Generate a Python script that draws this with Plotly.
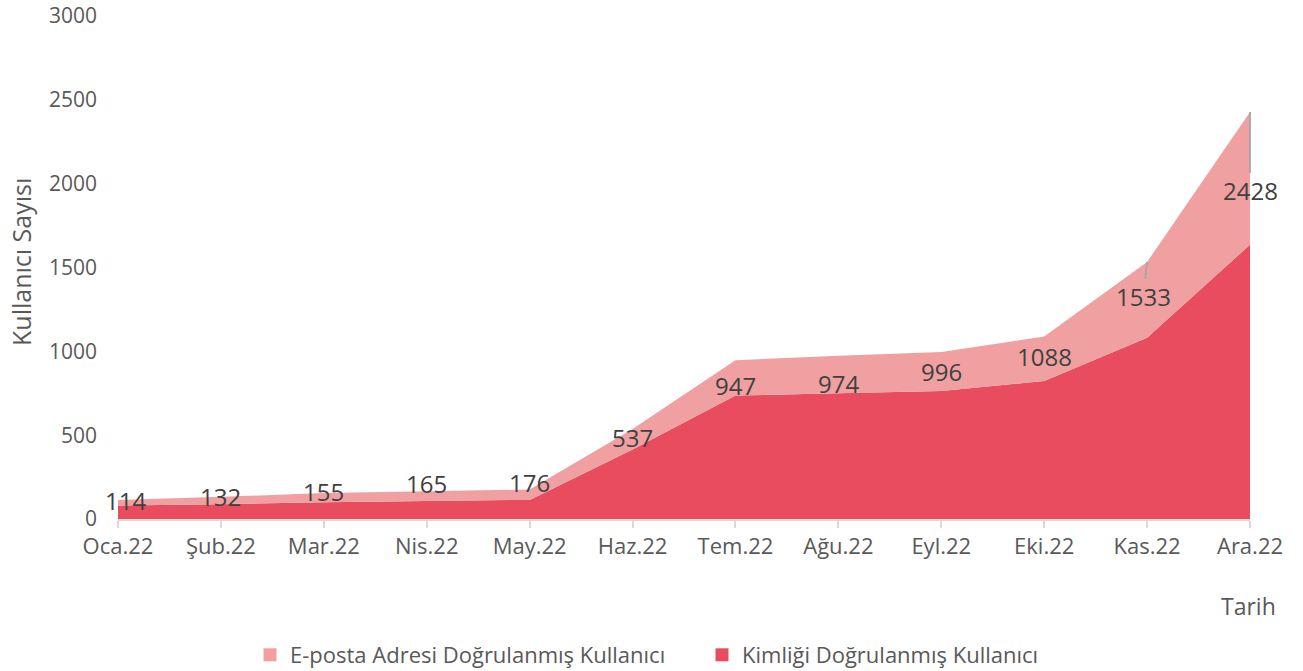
import plotly.graph_objects as go

months = ["Oca.22", "Şub.22", "Mar.22", "Nis.22", "May.22", "Haz.22",
          "Tem.22", "Ağu.22", "Eyl.22", "Eki.22", "Kas.22", "Ara.22"]
totals = [114, 132, 155, 165, 176, 537, 947, 974, 996, 1088, 1533, 2428]
kimlik = [80, 88, 100, 108, 114, 415, 736, 750, 764, 823, 1081, 1636]
eposta = [t - k for t, k in zip(totals, kimlik)]

# label styling (pixel offsets below the total point)
label_dy = [1, 0, -2, -8, -7, 9, 25, 28, 19, 20, 35, 79]
label_dx = [7, 0, 0, 0, 0, 0, 0, 0, 0, 0, -4, 0]
leader = [False] * 10 + [True, True]

RED = "#E94B5F"
PINK = "#F0A0A0"
FONT = "Open Sans"

fig = go.Figure()
fig.add_trace(go.Scatter(x=months, y=kimlik, stackgroup="one", mode="none",
                         fillcolor=RED, name="Kimliği Doğrulanmış Kullanıcı",
                         showlegend=False, hoverinfo="skip"))
fig.add_trace(go.Scatter(x=months, y=eposta, stackgroup="one", mode="none",
                         fillcolor=PINK, name="E-posta Adresi Doğrulanmış Kullanıcı",
                         showlegend=False, hoverinfo="skip"))
# legend proxies
fig.add_trace(go.Scatter(x=[None], y=[None], mode="markers",
                         marker=dict(symbol="square", size=13, color=PINK),
                         name="E-posta Adresi Doğrulanmış Kullanıcı"))
fig.add_trace(go.Scatter(x=[None], y=[None], mode="markers",
                         marker=dict(symbol="square", size=13, color=RED),
                         name="Kimliği Doğrulanmış Kullanıcı"))

annotations = []
for m, t, dy, dx, ld in zip(months, totals, label_dy, label_dx, leader):
    if ld:
        annotations.append(dict(x=m, y=t, text=str(t), showarrow=True,
                                ax=dx, ay=dy, arrowhead=0, arrowwidth=1.8,
                                arrowcolor="#A6A6A6", standoff=0,
                                font=dict(family=FONT, size=24, color="#404040")))
    else:
        annotations.append(dict(x=m, y=t, text=str(t), showarrow=False,
                                yshift=-dy, xshift=dx,
                                font=dict(family=FONT, size=24, color="#404040")))

annotations.append(dict(xref="paper", yref="paper", x=(21 - 118) / 1132, y=(519 - 262) / 503,
                        text="Kullanıcı Sayısı", textangle=-90, showarrow=False,
                        xanchor="center", yanchor="middle",
                        font=dict(family=FONT, size=25, color="#595959")))
annotations.append(dict(xref="paper", yref="paper", x=(1278 - 118) / 1132,
                        y=-(606 - 519) / 503, text="Tarih", showarrow=False,
                        xanchor="right", yanchor="middle",
                        font=dict(family=FONT, size=23, color="#595959")))

fig.update_layout(
    width=1303, height=671,
    margin=dict(l=118, r=53, t=16, b=152, autoexpand=False),
    paper_bgcolor="white", plot_bgcolor="white",
    font=dict(family=FONT, size=21, color="#595959"),
    showlegend=True,
    legend=dict(orientation="h", x=(250 - 118) / 1132, xanchor="left",
                y=-(655 - 519) / 503, yanchor="middle",
                font=dict(family=FONT, size=22, color="#595959"),
                traceorder="normal", itemwidth=30,
                entrywidth=407, entrywidthmode="pixels"),
    annotations=annotations,
    xaxis=dict(type="category", range=[0, 11], showgrid=False, zeroline=False,
               automargin=False,
               showline=True, linecolor="#D9D9D9", linewidth=1.5,
               ticks="outside", ticklen=7, tickcolor="#D9D9D9", tickwidth=1.5,
               tickfont=dict(family=FONT, size=22, color="#595959")),
    yaxis=dict(range=[0, 3000], dtick=500, showgrid=False, zeroline=False,
               automargin=False,
               showline=False, ticks="", ticklabelstandoff=20,
               tickfont=dict(family=FONT, size=21, color="#595959")),
)

# remove the page's default 8px body margin so the figure fills the window
fig.write_html("out.html", config={"displayModeBar": False},
               post_script="document.body.style.margin='0px';")
